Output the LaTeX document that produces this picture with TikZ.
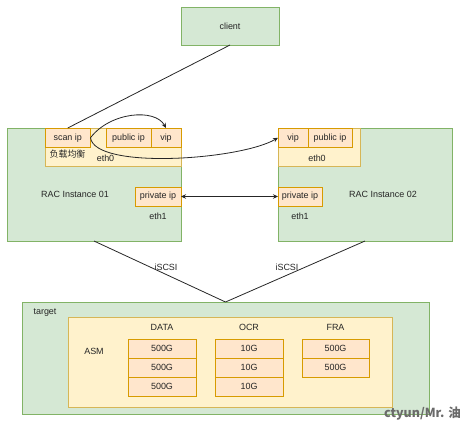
\documentclass[tikz,border=0pt]{standalone}
\usepackage{fontspec}
\setmainfont{Liberation Sans}
\newfontfamily\cjk{Noto Sans CJK SC}
\usetikzlibrary{arrows.meta}
\definecolor{gfill}{HTML}{D5E8D4}
\definecolor{gdraw}{HTML}{82B366}
\definecolor{yfill}{HTML}{FFF2CC}
\definecolor{ydraw}{HTML}{D6B656}
\definecolor{ofill}{HTML}{FFE6CC}
\definecolor{odraw}{HTML}{D79B00}
\definecolor{wm}{HTML}{6A6A6A}
\tikzset{
  base/.style={inner sep=0pt, outer sep=0pt, font=\fontsize{9}{10}\selectfont, text=black!85, line width=0.8bp, anchor=north west},
  gbox/.style={base, fill=gfill, draw=gdraw},
  ybox/.style={base, fill=yfill, draw=ydraw},
  obox/.style={base, fill=ofill, draw=odraw},
  lbl/.style={inner sep=0pt, font=\fontsize{9}{10}\selectfont, text=black!85},
  conn/.style={line width=0.8bp, draw=black!85},
  tip/.style={-{Stealth[length=5bp,width=4.5bp]}},
}
\begin{document}
\begin{tikzpicture}[x=1bp,y=-1bp]
\useasboundingbox (0,0) rectangle (461,423);
% client
\node[gbox, minimum width=98bp, minimum height=38bp] (client) at (181,7) {client};
% instance 01
\node[gbox, minimum width=174bp, minimum height=113bp] (inst1) at (7,128) {};
\node[ybox, minimum width=136bp, minimum height=38bp] (eth0a) at (45,128) {};
\node[obox, minimum width=45.5bp, minimum height=19.5bp] (scan) at (45,128) {scan ip};
\node[obox, minimum width=45bp, minimum height=19.5bp] (pub1) at (106,128) {public ip};
\node[obox, minimum width=30bp, minimum height=19.5bp] (vip1) at (151,128) {vip};
\node[obox, minimum width=46bp, minimum height=19bp] (priv1) at (135,187) {private ip};
\node[lbl] (lb) at (67.5,154.5) {\cjk 负载均衡};
\node[lbl] (e0a) at (105.5,158) {eth0};
\node[lbl] (e1a) at (158,216) {eth1};
\node[lbl] (rac1) at (75,194) {RAC Instance 01};
% instance 02
\node[gbox, minimum width=174bp, minimum height=113bp] (inst2) at (278,128) {};
\node[ybox, minimum width=82bp, minimum height=38bp] (eth0b) at (278,128) {};
\node[obox, minimum width=30bp, minimum height=19.5bp] (vip2) at (278,128) {vip};
\node[obox, minimum width=44bp, minimum height=19.5bp] (pub2) at (308,128) {public ip};
\node[obox, minimum width=44bp, minimum height=19bp] (priv2) at (278,187) {private ip};
\node[lbl] (e0b) at (317,158) {eth0};
\node[lbl] (e1b) at (300,216) {eth1};
\node[lbl] (rac2) at (383,194) {RAC Instance 02};
% target
\node[gbox, minimum width=407bp, minimum height=112bp] (target) at (22,302) {};
\node[ybox, minimum width=324bp, minimum height=90bp] (asm) at (68,317) {};
\node[lbl] (tgt) at (45,313) {target};
\node[lbl] (asml) at (94,351) {ASM};
\node[lbl] (data) at (162,327) {DATA};
\node[lbl] (ocr) at (249,327) {OCR};
\node[lbl] (fra) at (335.5,327) {FRA};
\node[obox, minimum width=68bp, minimum height=19bp] (d1) at (128,339) {500G};
\node[obox, minimum width=68bp, minimum height=19bp] (d2) at (128,358) {500G};
\node[obox, minimum width=68bp, minimum height=19bp] (d3) at (128,377) {500G};
\node[obox, minimum width=68bp, minimum height=19bp] (o1) at (215,339) {10G};
\node[obox, minimum width=68bp, minimum height=19bp] (o2) at (215,358) {10G};
\node[obox, minimum width=68bp, minimum height=19bp] (o3) at (215,377) {10G};
\node[obox, minimum width=67bp, minimum height=19bp] (f1) at (302,339) {500G};
\node[obox, minimum width=67bp, minimum height=19bp] (f2) at (302,358) {500G};
% connectors
\draw[conn] (client.south) -- (scan.north);
\draw[conn, tip] (scan.east) .. controls (110,112) and (155,108) .. (vip1.north);
\draw[conn, tip] (scan.east) .. controls (95,170) and (240,160) .. (vip2.west);
\draw[conn, {Stealth[length=5bp,width=4.5bp]}-{Stealth[length=5bp,width=4.5bp]}] (priv1.east) -- (priv2.west);
\draw[conn] (inst1.south) -- (target.north);
\draw[conn] (inst2.south) -- (target.north);
\node[lbl] (is1) at (166,267) {iSCSI};
\node[lbl] (is2) at (287,267) {iSCSI};
% watermark
\node[inner sep=0pt, anchor=east, text=wm, font=\cjk\bfseries\fontsize{12.5}{14}\selectfont] (wmk) at (461,413.5) {ctyun/Mr. 油};
\end{tikzpicture}
\end{document}
